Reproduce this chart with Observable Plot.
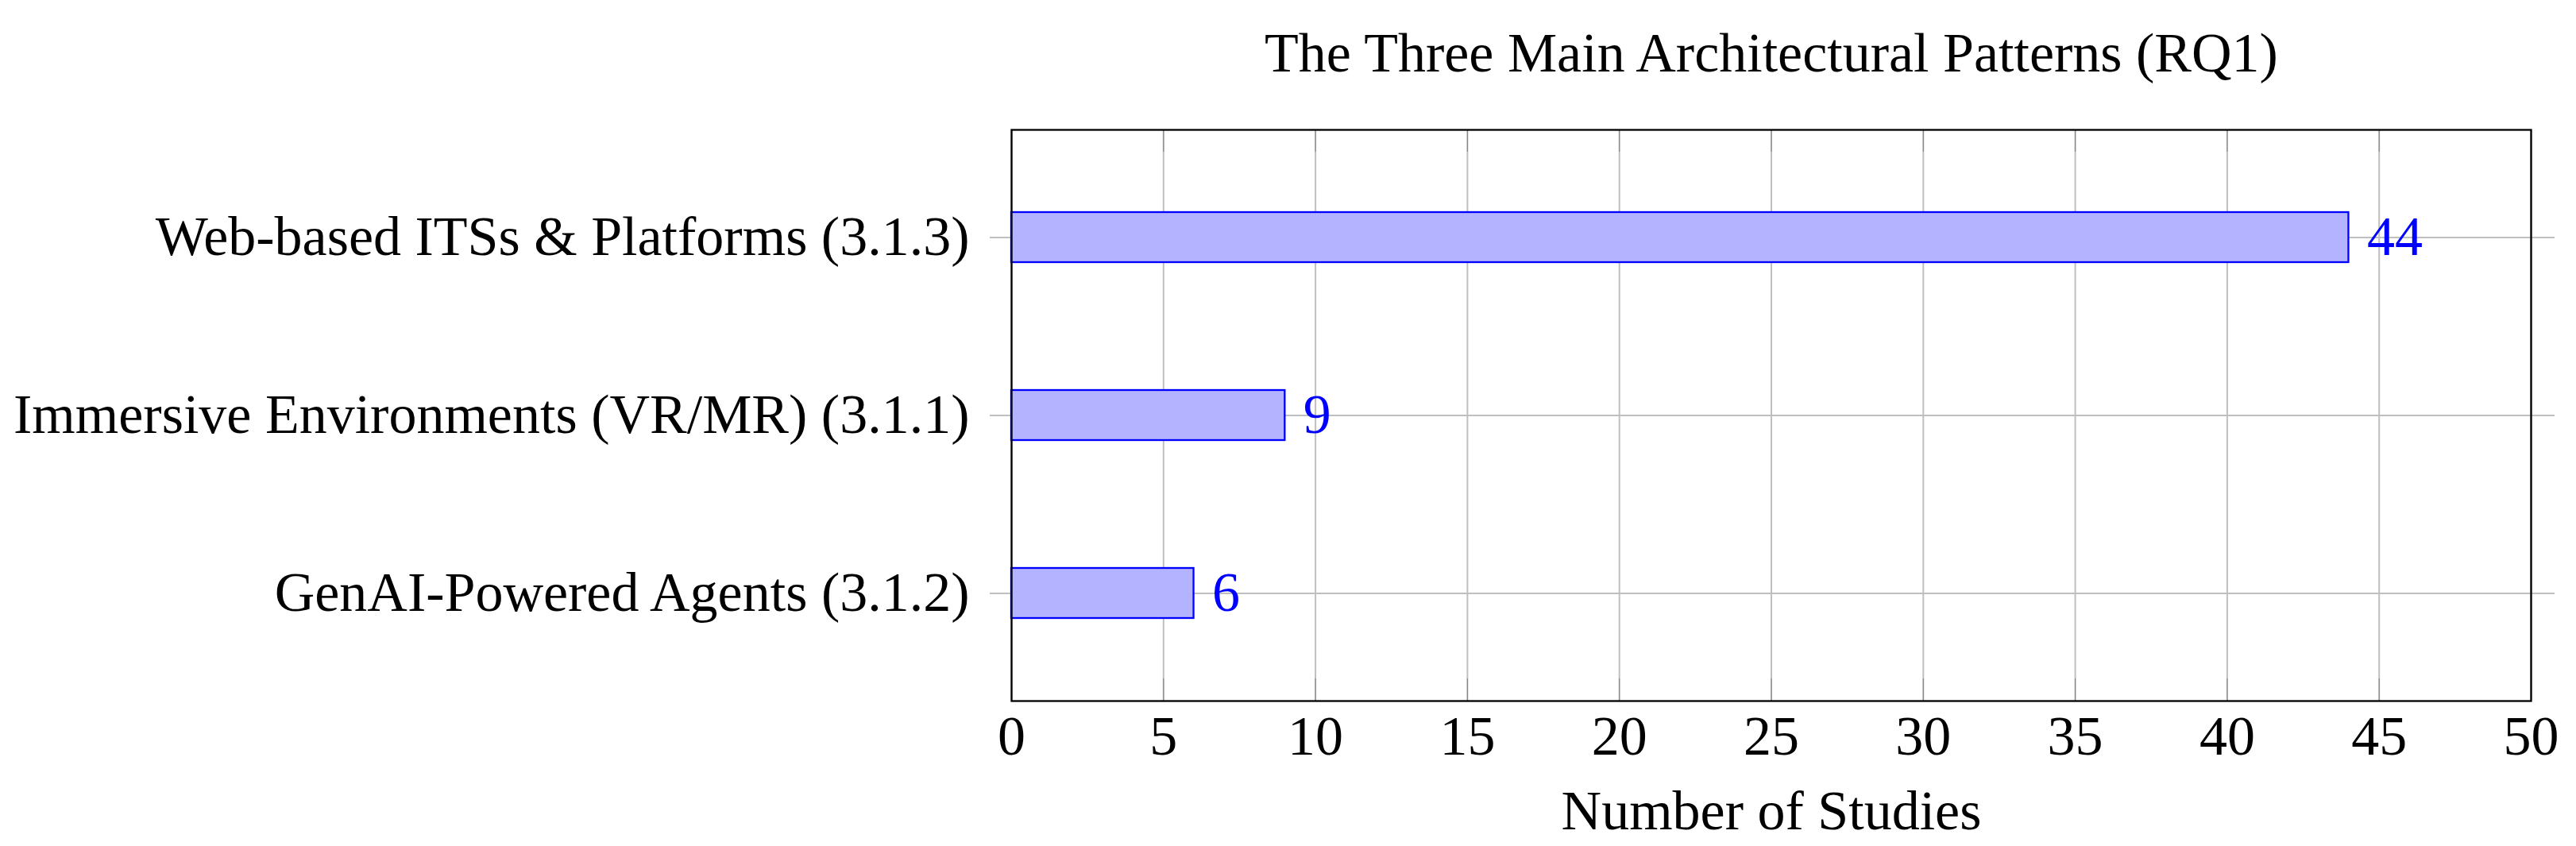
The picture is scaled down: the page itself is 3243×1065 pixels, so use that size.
<!DOCTYPE html>
<html>
<head>
<meta charset="utf-8">
<script src="https://cdn.jsdelivr.net/npm/d3@7"></script>
<script src="https://cdn.jsdelivr.net/npm/@observablehq/plot@0.6"></script>
<style>
  html, body { margin: 0; padding: 0; background: #ffffff; }
</style>
</head>
<body>
<div id="chart"></div>
<script>
const categories = [
  "Web-based ITSs & Platforms (3.1.3)",
  "Immersive Environments (VR/MR) (3.1.1)",
  "GenAI-Powered Agents (3.1.2)"
];
const studies = [44, 9, 6];
const xTicks = [0, 5, 10, 15, 20, 25, 30, 35, 40, 45, 50];
const titleText = "The Three Main Architectural Patterns (RQ1)";
const xLabelText = "Number of Studies";

const data = categories.map((c, i) => ({ category: c, value: studies[i] }));

const W = 3243, H = 1065;
const mL = 1273, mR = 57, mT = 163, mB = 183;
const frameW = W - mL - mR;
const frameH = H - mT - mB;
const FONT = "'Liberation Serif', 'Times New Roman', serif";
const FS = 70;

const chart = Plot.plot({
  width: W,
  height: H,
  marginLeft: mL,
  marginRight: mR,
  marginTop: mT,
  marginBottom: mB,
  style: { fontFamily: FONT, fontSize: FS + "px", background: "#ffffff", color: "black" },
  x: { domain: [0, 50], ticks: xTicks },
  y: { domain: categories, paddingInner: 0.719, paddingOuter: 0.4644, align: 0.5 },
  marks: [
    Plot.gridX(xTicks, { stroke: "#bfbfbf", strokeOpacity: 1, strokeWidth: 2 }),
    Plot.gridY(categories, { stroke: "#bfbfbf", strokeOpacity: 1, strokeWidth: 2 }),
    Plot.barX(data, { x: "value", y: "category", fill: "#b3b3ff", stroke: "#0000ff", strokeWidth: 2.3 }),
    Plot.tickX(xTicks, { x: d => d, stroke: "#808080", strokeWidth: 1, insetTop: frameH - 28 }),
    Plot.tickX(xTicks, { x: d => d, stroke: "#808080", strokeWidth: 1, insetBottom: frameH - 28 }),
    Plot.axisY({ anchor: "left", tickSize: 27, tickPadding: 26, stroke: "#808080", fill: "black", label: null, fontSize: FS }),
    Plot.axisY({ anchor: "right", tickSize: 29, stroke: "#808080", tickFormat: () => "", label: null }),
    Plot.axisX({ anchor: "bottom", ticks: xTicks, tickSize: 0, tickPadding: 18, fill: "black", label: null, fontSize: FS }),
    Plot.frame({ stroke: "black", strokeWidth: 2.3 }),
    Plot.text(data, { x: "value", y: "category", text: d => String(d.value), textAnchor: "start", dx: 23, fill: "#0000ff", fontSize: FS, lineAnchor: "middle" }),
    Plot.text([titleText], { text: d => d, frameAnchor: "top", dy: -74, lineAnchor: "bottom", fill: "black", fontSize: FS }),
    Plot.text([xLabelText], { text: d => d, frameAnchor: "bottom", dy: 161, lineAnchor: "bottom", fill: "black", fontSize: FS })
  ]
});

document.getElementById("chart").appendChild(chart);
</script>
</body>
</html>
